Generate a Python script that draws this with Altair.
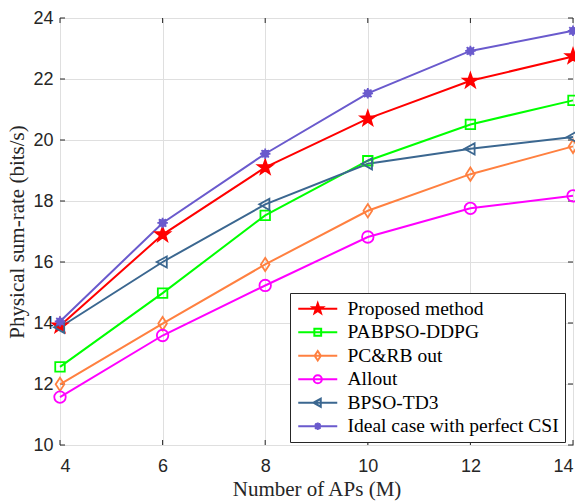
import math
import altair as alt
import pandas as pd

# ---- data ----
M = [4, 6, 8, 10, 12, 14]
methods = ["Proposed method", "PABPSO-DDPG", "PC&RB out", "Allout", "BPSO-TD3",
           "Ideal case with perfect CSI"]
proposed = [13.91, 16.90, 19.10, 20.70, 21.94, 22.74]
pabpso = [12.56, 14.98, 17.53, 19.32, 20.51, 21.30]
pcrb = [11.99, 13.98, 15.92, 17.68, 18.88, 19.79]
allout = [11.57, 13.59, 15.23, 16.82, 17.76, 18.17]
bpso = [13.86, 16.00, 17.89, 19.22, 19.71, 20.10]
ideal = [14.05, 17.28, 19.55, 21.53, 22.92, 23.58]
series = [proposed, pabpso, pcrb, allout, bpso, ideal]

x_ticks = [4, 6, 8, 10, 12, 14]
y_ticks = [10, 12, 14, 16, 18, 20, 22, 24]

colors = ["#FF0000", "#00FF00", "#FF8040", "#FF00FF", "#3B6790", "#6A5ACD"]
fills = ["#FF0000", "transparent", "transparent", "transparent", "transparent", "#6A5ACD"]

rows = []
for name, vals in zip(methods, series):
    for m, v in zip(M, vals):
        rows.append({"M": m, "rate": v, "method": name})
df = pd.DataFrame(rows)

# ---- marker glyphs (unit space) ----
def star_path(R=1.0, r=0.4):
    pts = []
    for i in range(10):
        ang = -math.pi / 2 + i * math.pi / 5
        rad = R if i % 2 == 0 else r
        pts.append((rad * math.cos(ang), rad * math.sin(ang)))
    return "M" + "L".join(f"{px:.3f},{py:.3f}" for px, py in pts) + "Z"

p_star = star_path(1.08, 0.43)
p_square = "M-0.68,-0.68L0.68,-0.68L0.68,0.68L-0.68,0.68Z"
p_diamond = "M0,-0.95L0.62,0L0,0.95L-0.62,0Z"
p_circle = "M0.82,0A0.82,0.82,0,1,1,-0.82,0A0.82,0.82,0,1,1,0.82,0Z"
p_tri = "M-0.85,0L0.6,-0.8L0.6,0.8Z"
p_ast = ("M0,-0.75L0,0.75M-0.75,0L0.75,0M-0.53,-0.53L0.53,0.53M-0.53,0.53L0.53,-0.53"
         "M0.45,0A0.45,0.45,0,1,1,-0.45,0A0.45,0.45,0,1,1,0.45,0Z")
marks = [p_star, p_square, p_diamond, p_circle, p_tri, p_ast]
seg = "M-3.9,0L3.9,0"
legend_marks = [seg + p for p in marks]

W, H = 513, 427
xs = alt.Scale(domain=[4, 14], nice=False)
ys = alt.Scale(domain=[10, 24], nice=False)

X = alt.X("M:Q", scale=xs, title="Number of APs (M)",
          axis=alt.Axis(values=x_ticks, format="d"))
Y = alt.Y("rate:Q", scale=ys, title="Physical sum-rate (bits/s)",
          axis=alt.Axis(values=y_ticks, format="d"))

stroke_enc = alt.Stroke("method:N", scale=alt.Scale(domain=methods, range=colors), legend=None)

lines = alt.Chart(df).mark_line(strokeWidth=2).encode(
    x=X, y=Y, stroke=stroke_enc, detail="method:N")

points = alt.Chart(df).mark_point(size=196, strokeWidth=1.8, opacity=1).encode(
    x=X, y=Y,
    stroke=stroke_enc,
    fill=alt.Fill("method:N", scale=alt.Scale(domain=methods, range=fills), legend=None),
    shape=alt.Shape("method:N", scale=alt.Scale(domain=methods, range=marks), legend=None),
)

leg = alt.Legend(title=None, orient="none", legendX=230, legendY=275,
                 symbolOpacity=1, symbolStrokeWidth=2)
legend_layer = alt.Chart(df).mark_point(size=196, strokeWidth=2, opacity=0).encode(
    x=X, y=Y,
    stroke=alt.Stroke("method:N", scale=alt.Scale(domain=methods, range=colors), legend=leg),
    fill=alt.Fill("method:N", scale=alt.Scale(domain=methods, range=fills), legend=leg),
    shape=alt.Shape("method:N", scale=alt.Scale(domain=methods, range=legend_marks), legend=leg),
)

# inward tick marks on all four sides
ydf = pd.DataFrame({"rate": y_ticks})
xdf = pd.DataFrame({"M": x_ticks})
tick_col = "#262626"
tl = alt.Chart(ydf).mark_rule(color=tick_col).encode(
    y=alt.Y("rate:Q", scale=ys), x=alt.value(0), x2=alt.value(5))
tr = alt.Chart(ydf).mark_rule(color=tick_col).encode(
    y=alt.Y("rate:Q", scale=ys), x=alt.value(W - 5), x2=alt.value(W))
tb = alt.Chart(xdf).mark_rule(color=tick_col).encode(
    x=alt.X("M:Q", scale=xs), y=alt.value(H - 5), y2=alt.value(H))
tt = alt.Chart(xdf).mark_rule(color=tick_col).encode(
    x=alt.X("M:Q", scale=xs), y=alt.value(0), y2=alt.value(5))

chart = alt.layer(tl, tr, tb, tt, lines, points, legend_layer).resolve_scale(
    stroke="independent", fill="independent", shape="independent"
).properties(
    width=W, height=H,
    autosize=alt.AutoSizeParams(type="none"),
    padding={"left": 52, "top": 10, "right": 2, "bottom": 59},
).configure_view(
    stroke="#262626", strokeWidth=1
).configure_axis(
    domain=False, ticks=False, grid=True, gridColor="#DFDFDF", gridWidth=1,
    labelFont="Liberation Sans", labelFontSize=18, labelColor="#262626",
    titleFont="Liberation Serif", titleFontSize=21, titleFontWeight="normal",
    titleColor="#262626",
).configure_axisX(
    labelPadding=12, titlePadding=3
).configure_axisY(
    labelPadding=7, titlePadding=5.5
).configure_legend(
    strokeColor="#262626", fillColor="white", padding=6, symbolOffset=12,
    labelOffset=20, rowPadding=2.5, labelFont="Liberation Serif", labelFontSize=19.5,
    labelColor="black", labelLimit=400
)

chart.save("out.html", embed_options={"renderer": "svg", "actions": False})
